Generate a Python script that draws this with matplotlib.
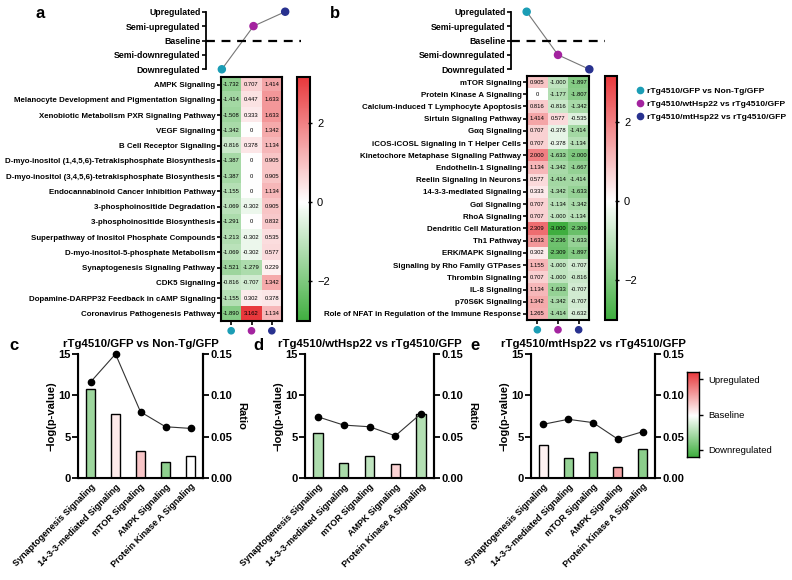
import numpy as np
import matplotlib
matplotlib.use("Agg")
import matplotlib.pyplot as plt
from matplotlib.colors import LinearSegmentedColormap, Normalize
from matplotlib.lines import Line2D

plt.rcParams['font.family'] = ['Liberation Sans', 'DejaVu Sans']
plt.rcParams['font.weight'] = 'bold'

# ---- data ----
groups = ['rTg4510/GFP vs Non-Tg/GFP', 'rTg4510/wtHsp22 vs rTg4510/GFP', 'rTg4510/mtHsp22 vs rTg4510/GFP']
group_colors = ['#1b9db5', '#a3239f', '#28318f']
levels = ['Downregulated', 'Semi-downregulated', 'Baseline', 'Semi-upregulated', 'Upregulated']
trend_a = [-2, 1, 2]
trend_b = [2, -1, -2]

paths_a = ['AMPK Signaling', 'Melanocyte Development and Pigmentation Signaling',
           'Xenobiotic Metabolism PXR Signaling Pathway', 'VEGF Signaling', 'B Cell Receptor Signaling',
           'D-myo-inositol (1,4,5,6)-Tetrakisphosphate Biosynthesis',
           'D-myo-inositol (3,4,5,6)-tetrakisphosphate Biosynthesis',
           'Endocannabinoid Cancer Inhibition Pathway', '3-phosphoinositide Degradation',
           '3-phosphoinositide Biosynthesis', 'Superpathway of Inositol Phosphate Compounds',
           'D-myo-inositol-5-phosphate Metabolism', 'Synaptogenesis Signaling Pathway', 'CDK5 Signaling',
           'Dopamine-DARPP32 Feedback in cAMP Signaling', 'Coronavirus Pathogenesis Pathway']
z_a = [[-1.732, 0.707, 1.414], [-1.414, 0.447, 1.633], [-1.508, 0.333, 1.633], [-1.342, 0, 1.342],
       [-0.816, 0.378, 1.134], [-1.387, 0, 0.905], [-1.387, 0, 0.905], [-1.155, 0, 1.134],
       [-1.069, -0.302, 0.905], [-1.291, 0, 0.832], [-1.213, -0.302, 0.535], [-1.069, -0.302, 0.577],
       [-1.521, -1.279, 0.229], [-0.816, -0.707, 1.342], [-1.155, 0.302, 0.378], [-1.890, 3.162, 1.134]]

paths_b = ['mTOR Signaling', 'Protein Kinase A Signaling', 'Calcium-induced T Lymphocyte Apoptosis',
           'Sirtuin Signaling Pathway', 'G\u03b1q Signaling', 'iCOS-iCOSL Signaling in T Helper Cells',
           'Kinetochore Metaphase Signaling Pathway', 'Endothelin-1 Signaling', 'Reelin Signaling in Neurons',
           '14-3-3-mediated Signaling', 'G\u03b1i Signaling', 'RhoA Signaling', 'Dendritic Cell Maturation',
           'Th1 Pathway', 'ERK/MAPK Signaling', 'Signaling by Rho Family GTPases', 'Thrombin Signaling',
           'IL-8 Signaling', 'p70S6K Signaling', 'Role of NFAT in Regulation of the Immune Response']
z_b = [[0.905, -1.000, -1.897], [0, -1.177, -1.807], [0.816, -0.816, -1.342], [1.414, 0.577, -0.535],
       [0.707, -0.378, -1.414], [0.707, -0.378, -1.134], [2.000, -1.633, -2.000], [1.134, -1.342, -1.667],
       [0.577, -1.414, -1.414], [0.333, -1.342, -1.633], [0.707, -1.134, -1.342], [0.707, -1.000, -1.134],
       [2.309, -3.000, -2.309], [1.633, -2.236, -1.633], [0.302, -2.309, -1.897], [1.155, -1.000, -0.707],
       [0.707, -1.000, -0.816], [1.134, -1.633, -0.707], [1.342, -1.342, -0.707], [1.265, -1.414, -0.632]]

bar_paths = ['Synaptogenesis Signaling', '14-3-3-mediated Signaling', 'mTOR Signaling',
             'AMPK Signaling', 'Protein Kinase A Signaling']
logp_c = [10.8, 7.75, 3.3, 1.95, 2.65]
ratio_c = [0.116, 0.150, 0.080, 0.062, 0.060]
zbar_c = [-1.521, 0.333, 0.905, -1.732, 0]
logp_d = [5.5, 1.85, 2.65, 1.75, 7.75]
ratio_d = [0.074, 0.064, 0.062, 0.051, 0.078]
zbar_d = [-1.279, -1.342, -1.000, 0.707, -1.177]
logp_e = [4.05, 2.4, 3.15, 1.35, 3.5]
ratio_e = [0.065, 0.071, 0.067, 0.047, 0.056]
zbar_e = [0.229, -1.633, -1.897, 1.414, -1.807]

vmin, vmax = -3.0, 3.162
mid = -vmin / (vmax - vmin)
cmap = LinearSegmentedColormap.from_list('gwr', [(0, '#3fae3f'), (mid, '#ffffff'), (1, '#e8383c')])
norm = Normalize(vmin, vmax)

fig = plt.figure(figsize=(7.92, 5.80), dpi=100)

def px(x0, y0, x1, y1):
    return [x0 / 792, 1 - y1 / 580, (x1 - x0) / 792, (y1 - y0) / 580]

def trend_plot(rect, trend):
    ax = fig.add_axes(rect)
    ax.plot([0, 1, 2], trend, color='#777777', lw=0.8, zorder=2)
    ax.scatter([0, 1, 2], trend, c=group_colors, s=26, zorder=3, clip_on=False)
    ax.axhline(0, color='black', lw=1.6, ls=(0, (4, 3)), xmin=0, xmax=1)
    ax.set_xlim(-0.5, 2.5)
    ax.set_ylim(-2.05, 2.05)
    for s in ['top', 'right', 'bottom']:
        ax.spines[s].set_visible(False)
    ax.spines['left'].set_linewidth(1.3)
    ax.spines['left'].set_bounds(-2, 2)
    ax.set_xticks([])
    ax.set_yticks([-2, -1, 0, 1, 2])
    ax.set_yticklabels(levels, fontsize=6.3, fontweight='bold')
    ax.tick_params(axis='y', length=3, width=1.2, pad=1)
    ax.patch.set_alpha(0)
    return ax

def heatmap(rect, crect, paths, z):
    ax = fig.add_axes(rect)
    z = np.array(z)
    im = ax.imshow(z, cmap=cmap, norm=norm, aspect='auto')
    for i in range(z.shape[0]):
        for j in range(z.shape[1]):
            v = z[i, j]
            t = '0' if v == 0 else f'{v:.3f}'
            ax.text(j, i, t, ha='center', va='center', fontsize=4.2, fontweight='normal')
    ax.set_yticks(range(len(paths)))
    ax.set_yticklabels(paths, fontsize=5.7, fontweight='bold')
    ax.set_xticks([0, 1, 2])
    ax.set_xticklabels([])
    ax.tick_params(length=3, width=1.2, pad=1)
    for s in ax.spines.values():
        s.set_linewidth(1.5)
    ax.scatter([0, 1, 2], [-0.04] * 3, c=group_colors, s=20, clip_on=False,
               transform=ax.get_xaxis_transform())
    cax = fig.add_axes(crect)
    cb = fig.colorbar(im, cax=cax, ticks=[-2, 0, 2])
    cb.outline.set_linewidth(1.5)
    cb.ax.set_yticklabels(['\u22122', '0', '2'], fontsize=8, fontweight='normal')
    cb.ax.tick_params(length=3, width=1, direction='inout')
    return ax

trend_plot(px(206, 11, 301, 70), trend_a)
heatmap(px(221, 77, 282, 321), px(297, 77, 310, 321), paths_a, z_a)
trend_plot(px(511, 11, 605, 70), trend_b)
heatmap(px(527, 76, 589, 320), px(605, 76, 617, 320), paths_b, z_b)

handles = [Line2D([], [], marker='o', ls='', color=c, markersize=4.5) for c in group_colors]
fig.legend(handles, groups, loc='upper left', bbox_to_anchor=(630 / 792, 1 - 84 / 580),
           frameon=False, handletextpad=0.1, handlelength=1.5, labelspacing=0.6, borderaxespad=0,
           prop={'weight': 'bold', 'size': 6.1})

def bar_panel(rect, title, logp, ratio, zbar, ratio_label=True):
    ax = fig.add_axes(rect)
    x = np.arange(len(bar_paths))
    ax.bar(x, logp, width=0.36, color=cmap(norm(np.array(zbar))), edgecolor='black', lw=1)
    ax.set_xlim(-0.5, 4.5)
    ax.set_ylim(0, 15)
    ax.set_yticks([0, 5, 10, 15])
    ax.set_ylabel('\u2212log(p-value)', fontsize=8, fontweight='bold', labelpad=1)
    ax.set_xticks(x)
    ax.set_xticklabels(bar_paths, rotation=45, ha='right', rotation_mode='anchor',
                       fontsize=6.5, fontweight='bold')
    ax.tick_params(axis='x', length=0, pad=3)
    ax.tick_params(axis='y', length=4, width=1.3, labelsize=8, pad=1.5)
    ax.spines['top'].set_visible(False)
    for s in ['left', 'right', 'bottom']:
        ax.spines[s].set_linewidth(1.5)
    ax.set_title(title, fontsize=8.2, fontweight='bold', pad=5)
    ax2 = ax.twinx()
    ax2.plot(x, ratio, color='#333333', lw=0.8, marker='o', markersize=4.5,
             markerfacecolor='black', markeredgecolor='black', clip_on=False)
    ax2.set_ylim(0, 0.15)
    ax2.set_yticks([0, 0.05, 0.10, 0.15])
    ax2.set_yticklabels(['0.00', '0.05', '0.10', '0.15'])
    ax2.tick_params(axis='y', length=4, width=1.3, labelsize=8, pad=1.5)
    if ratio_label:
        ax2.set_ylabel('Ratio', rotation=270, fontsize=8, fontweight='bold', labelpad=10)
    ax2.spines['top'].set_visible(False)
    ax2.spines['right'].set_linewidth(1.5)
    return ax

bar_panel(px(78, 354, 203, 478), 'rTg4510/GFP vs Non-Tg/GFP', logp_c, ratio_c, zbar_c)
bar_panel(px(305, 354, 434, 478), 'rTg4510/wtHsp22 vs rTg4510/GFP', logp_d, ratio_d, zbar_d)
bar_panel(px(531, 354, 655, 478), 'rTg4510/mtHsp22 vs rTg4510/GFP', logp_e, ratio_e, zbar_e,
          ratio_label=False)

# legend bar for the bottom panels
lax = fig.add_axes(px(687, 372, 699, 457))
grad = np.linspace(vmax, vmin, 200).reshape(-1, 1)
lax.imshow(grad, cmap=cmap, norm=norm, aspect='auto', extent=[0, 1, -1.2, 1.2])
lax.set_xticks([])
lax.yaxis.tick_right()
lax.set_yticks([1, 0, -1])
lax.set_yticklabels(['Upregulated', 'Baseline', 'Downregulated'], fontsize=6.8, fontweight='normal')
lax.tick_params(axis='y', length=3, width=1)
for s in lax.spines.values():
    s.set_linewidth(1)

for lab, (x, y) in zip('abcde', [(40, 14), (335, 14), (14, 346), (258, 346), (475, 346)]):
    fig.text(x / 792, 1 - y / 580, lab, fontsize=12, fontweight='bold', va='center', ha='center')

fig.savefig('out.png', dpi=100)
